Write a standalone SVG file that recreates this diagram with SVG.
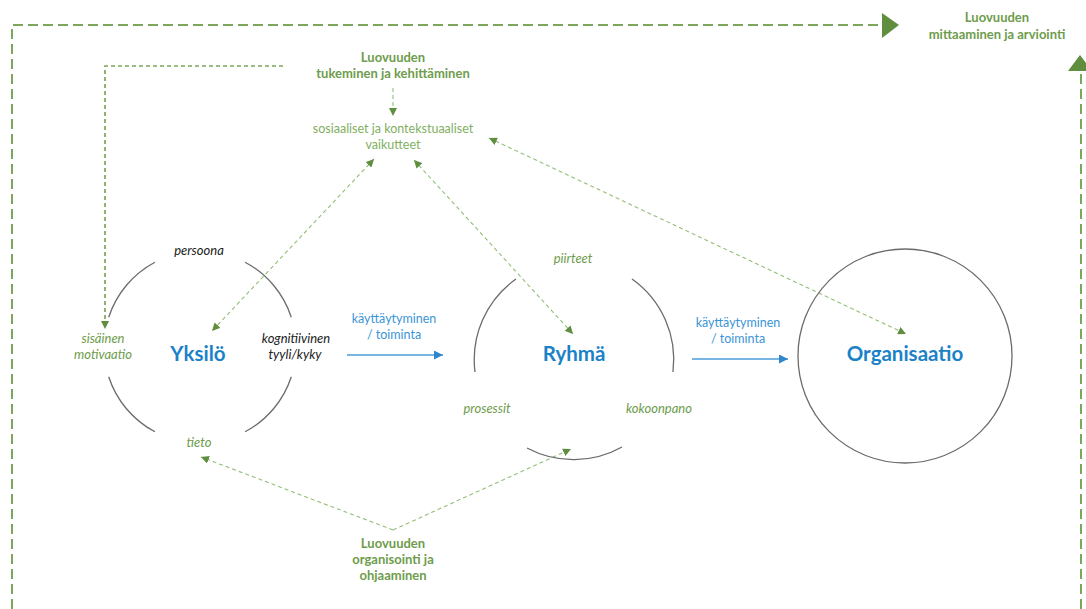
<svg xmlns="http://www.w3.org/2000/svg" width="1086" height="609" viewBox="0 0 1086 609">
  <style>
    .t { font-family: Lato, "Open Sans", sans-serif; text-anchor: middle; }
    .head { font-size: 13px; font-weight: bold; fill: #6E9C4C; }
    .ctx { font-size: 12.5px; fill: #7FAF62; }
    .ital { font-size: 13px; font-style: italic; }
    .blk { fill: #222; }
    .grn { fill: #6E9C4C; }
    .blue { font-size: 12.5px; fill: #3B95D6; }
    .name { font-size: 20.5px; font-weight: bold; fill: #1B82C8; }
    .ring { fill: none; stroke: #6B6B6B; stroke-width: 1.3; }
    .frame { fill: none; stroke: #7BA65B; stroke-width: 2; stroke-dasharray: 10 5; }
    .inner { fill: none; stroke: #7BA65B; stroke-width: 1.7; stroke-dasharray: 4 3; }
    .fine { fill: none; stroke: #94BE78; stroke-width: 1.1; stroke-dasharray: 4 3; }
    .flow { fill: none; stroke: #4A9DDA; stroke-width: 1.3; }
  </style>
  <defs>
    <marker id="gh" viewBox="0 0 10 10" refX="10" refY="5" markerWidth="8" markerHeight="8" markerUnits="userSpaceOnUse" orient="auto-start-reverse">
      <path d="M0,0 L10,5 L0,10 Z" fill="#5E8E3E"/>
    </marker>
    <marker id="bh" viewBox="0 0 10 10" refX="10" refY="5" markerWidth="9" markerHeight="9" markerUnits="userSpaceOnUse" orient="auto">
      <path d="M0,0 L10,5 L0,10 Z" fill="#2E86CC"/>
    </marker>
  </defs>

  <!-- connectors -->
  <g id="connectors">
    <!-- outer measurement frame -->
    <polyline class="frame" points="12,609 12,25 882,25"/>
    <polygon points="882,13 899,25 882,38" fill="#5E8E3E"/>
    <line class="frame" x1="1081" y1="609" x2="1081" y2="71"/>
    <polygon points="1068,71 1080,55 1092,71" fill="#5E8E3E"/>

    <!-- support & development to intrinsic motivation -->
    <polyline class="inner" points="283,66 105,66 105,329" marker-end="url(#gh)"/>
    <line class="fine" x1="393" y1="88" x2="393" y2="116" marker-end="url(#gh)"/>

    <!-- social and contextual influences -->
    <line class="fine" x1="374" y1="159" x2="212" y2="331" marker-start="url(#gh)" marker-end="url(#gh)"/>
    <line class="fine" x1="414" y1="160" x2="573" y2="334" marker-start="url(#gh)" marker-end="url(#gh)"/>
    <line class="fine" x1="489" y1="138" x2="906" y2="334" marker-start="url(#gh)" marker-end="url(#gh)"/>

    <!-- organising & steering -->
    <line class="fine" x1="393" y1="530" x2="201" y2="457" marker-end="url(#gh)"/>
    <line class="fine" x1="393" y1="530" x2="571" y2="449" marker-end="url(#gh)"/>

    <!-- behaviour / action flows -->
    <line class="flow" x1="347" y1="355" x2="443" y2="355" marker-end="url(#bh)"/>
    <line class="flow" x1="692" y1="359" x2="788" y2="359" marker-end="url(#bh)"/>
  </g>

  <g id="measuring">
    <text class="t head" x="997" y="22">Luovuuden</text>
    <text class="t head" x="997" y="39">mittaaminen ja arviointi</text>
  </g>

  <g id="supporting">
    <text class="t head" x="393" y="62">Luovuuden</text>
    <text class="t head" x="393" y="78">tukeminen ja kehittäminen</text>
  </g>

  <g id="context">
    <text class="t ctx" x="393" y="133">sosiaaliset ja kontekstuaaliset</text>
    <text class="t ctx" x="393" y="149">vaikutteet</text>
  </g>

  <g id="individual">
    <path class="ring" d="M154.9,262.2 A96,96 0 0 0 108.7,317.3"/>
    <path class="ring" d="M245.1,262.2 A96,96 0 0 1 291.3,317.3"/>
    <path class="ring" d="M108.7,376.7 A96,96 0 0 0 154.9,431.8"/>
    <path class="ring" d="M291.3,376.7 A96,96 0 0 1 245.1,431.8"/>
    <text class="t ital blk" x="199" y="255">persoona</text>
    <text class="t ital grn" x="103" y="343">sisäinen</text>
    <text class="t ital grn" x="103" y="359">motivaatio</text>
    <text class="t ital blk" x="296" y="343">kognitiivinen</text>
    <text class="t ital blk" x="295" y="359">tyyli/kyky</text>
    <text class="t ital grn" x="199" y="447">tieto</text>
    <text class="t name" x="198" y="361">Yksilö</text>
  </g>

  <g id="flow-label-1">
    <text class="t blue" x="394" y="323">käyttäytyminen</text>
    <text class="t blue" x="394" y="339">/ toiminta</text>
  </g>

  <g id="group">
    <path class="ring" d="M516,279 A99,99 0 0 0 475,372"/>
    <path class="ring" d="M632,279 A99,99 0 0 1 673,372"/>
    <path class="ring" d="M527,448 A99,99 0 0 0 622,447"/>
    <text class="t ital grn" x="573" y="263">piirteet</text>
    <text class="t ital grn" x="487" y="413">prosessit</text>
    <text class="t ital grn" x="659" y="413">kokoonpano</text>
    <text class="t name" x="574" y="361">Ryhmä</text>
  </g>

  <g id="flow-label-2">
    <text class="t blue" x="738" y="327">käyttäytyminen</text>
    <text class="t blue" x="738" y="343">/ toiminta</text>
  </g>

  <g id="organisation">
    <circle class="ring" cx="905" cy="356" r="107"/>
    <text class="t name" x="905" y="361">Organisaatio</text>
  </g>

  <g id="organising">
    <text class="t head" x="393" y="548">Luovuuden</text>
    <text class="t head" x="393" y="564">organisointi ja</text>
    <text class="t head" x="393" y="580">ohjaaminen</text>
  </g>
</svg>
